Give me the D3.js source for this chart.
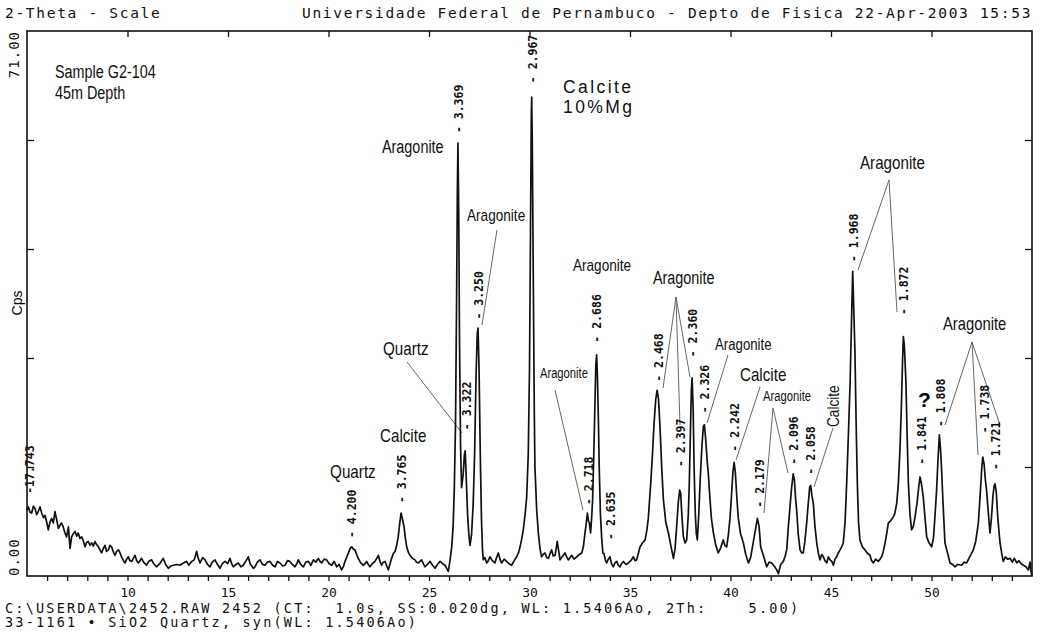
<!DOCTYPE html>
<html>
<head>
<meta charset="utf-8">
<script src="https://cdn.jsdelivr.net/npm/d3@7"></script>
<style>
  html, body { margin: 0; padding: 0; background: #fff; }
  svg { display: block; }
  .mono { font-family: "DejaVu Sans Mono", monospace; fill: #111; white-space: pre; }
  .phase { font-family: "Liberation Sans Narrow", "Liberation Sans", Arial, sans-serif; fill: #111; }
  .axis path { display: none; }
  .axis line { stroke: #111; stroke-width: 1.3; }
  .axis text { font-family: "DejaVu Sans Mono", monospace; font-size: 13px; fill: #111; }
</style>
</head>
<body>
<svg id="chart" width="1040" height="635"></svg>
<script>

// DATA ////////////////////////////////////////////////////////////////////

// measured scan: [2-theta (deg), counts per second]
var scan = [
  [5.00,8.6],[5.07,9.0],[5.15,8.3],[5.23,8.2],[5.32,9.1],[5.40,8.8],[5.48,8.0],[5.56,8.4],[5.65,9.0],[5.73,8.2],
  [5.82,7.6],[5.90,7.9],[5.98,7.0],[6.06,6.0],[6.14,7.0],[6.23,7.5],[6.31,6.9],[6.39,8.4],[6.48,7.3],[6.56,6.2],
  [6.64,6.6],[6.72,6.9],[6.80,6.4],[6.89,5.6],[6.97,5.1],[7.06,6.4],[7.14,3.6],[7.22,5.1],[7.30,5.5],[7.39,5.8],
  [7.47,5.2],[7.55,5.6],[7.63,4.9],[7.72,5.1],[7.80,4.6],[7.89,3.8],[7.97,4.4],[8.05,4.5],[8.13,4.0],[8.22,4.3],
  [8.30,3.9],[8.38,4.5],[8.46,4.1],[8.55,3.8],[8.63,3.4],[8.71,3.0],[8.80,3.6],[8.88,4.0],[8.96,3.2],[9.05,3.4],
  [9.13,4.0],[9.21,3.8],[9.30,3.1],[9.38,2.7],[9.46,3.2],[9.55,3.4],[9.63,3.0],[9.72,2.4],[9.80,2.0],[9.88,1.7],
  [9.96,2.2],[10.04,2.5],[10.12,2.0],[10.21,1.9],[10.29,2.3],[10.37,2.7],[10.46,2.0],[10.54,1.7],[10.62,2.0],[10.70,2.3],
  [10.80,1.8],[10.95,1.4],[11.05,1.9],[11.20,2.1],[11.30,1.6],[11.45,1.2],[11.60,1.6],[11.78,2.3],[11.90,1.5],[12.03,1.0],
  [12.15,1.3],[12.28,1.4],[12.45,1.5],[12.61,1.4],[12.78,1.7],[12.94,1.9],[13.05,1.4],[13.19,1.9],[13.32,2.1],[13.44,3.2],
  [13.52,2.3],[13.61,1.7],[13.74,2.4],[13.86,2.1],[13.98,1.5],[14.10,1.2],[14.22,1.8],[14.35,2.1],[14.48,1.5],[14.60,1.0],
  [14.72,1.6],[14.85,1.9],[14.98,1.6],[15.10,2.3],[15.18,1.6],[15.27,1.2],[15.40,1.5],[15.51,1.7],[15.64,1.2],[15.76,1.4],
  [15.90,2.0],[16.01,2.5],[16.10,1.6],[16.26,1.0],[16.34,1.2],[16.46,1.8],[16.59,2.1],[16.72,1.5],[16.84,1.4],[16.96,1.8],
  [17.09,1.9],[17.22,1.4],[17.34,1.2],[17.46,1.9],[17.59,1.7],[17.72,1.3],[17.84,1.4],[17.96,2.0],[18.08,1.9],[18.20,1.5],
  [18.33,1.2],[18.42,1.6],[18.50,2.1],[18.62,1.5],[18.75,1.2],[18.87,1.8],[19.00,1.9],[19.12,1.4],[19.25,2.1],[19.37,1.8],
  [19.49,2.3],[19.58,1.9],[19.66,1.7],[19.78,2.2],[19.91,2.1],[20.03,1.6],[20.16,1.4],[20.28,1.9],[20.41,1.2],[20.53,1.5],
  [20.65,0.8],[20.75,1.3],[20.82,1.9],[20.90,2.4],[20.99,3.0],[21.08,3.6],[21.15,3.8],[21.24,3.5],[21.32,3.4],[21.40,2.8],
  [21.48,2.3],[21.60,1.7],[21.73,1.4],[21.82,1.6],[21.90,1.9],[21.98,1.5],[22.06,1.2],[22.18,1.6],[22.31,1.9],[22.40,2.3],
  [22.48,2.7],[22.56,1.9],[22.64,1.4],[22.72,1.8],[22.81,1.9],[22.90,1.3],[22.98,0.8],[23.06,1.6],[23.14,2.3],[23.22,2.9],
  [23.31,3.2],[23.39,4.0],[23.47,5.1],[23.54,6.8],[23.61,8.2],[23.68,7.4],[23.76,6.4],[23.82,5.0],[23.89,3.8],[23.97,3.1],
  [24.05,2.7],[24.18,2.3],[24.30,2.1],[24.38,1.8],[24.47,1.7],[24.55,1.9],[24.63,2.1],[24.72,1.6],[24.80,1.2],[24.92,1.5],
  [25.05,1.9],[25.18,1.4],[25.30,1.0],[25.42,1.5],[25.55,1.9],[25.68,1.6],[25.80,1.4],[25.88,1.0],[25.96,0.6],[26.04,1.9],
  [26.13,3.8],[26.20,6.5],[26.26,11.5],[26.32,20.0],[26.37,35.0],[26.41,50.0],[26.44,56.4],[26.48,47.0],[26.52,30.0],[26.57,17.0],
  [26.62,11.5],[26.70,13.2],[26.76,15.8],[26.80,16.3],[26.85,13.0],[26.92,8.0],[26.98,5.5],[27.04,4.0],[27.12,5.5],[27.20,9.5],
  [27.27,16.0],[27.34,26.0],[27.40,31.5],[27.44,32.3],[27.49,27.0],[27.55,16.0],[27.61,7.5],[27.66,3.5],[27.70,2.1],[27.78,2.4],
  [27.87,1.7],[27.95,2.0],[28.03,2.5],[28.15,2.0],[28.28,1.7],[28.36,2.4],[28.45,3.0],[28.53,2.2],[28.61,1.7],[28.74,2.2],
  [28.86,1.9],[28.98,1.6],[29.11,1.4],[29.24,2.0],[29.36,2.5],[29.45,3.0],[29.53,3.8],[29.61,4.8],[29.69,6.0],[29.78,8.0],
  [29.86,10.3],[29.94,16.0],[30.00,27.0],[30.05,45.0],[30.09,60.0],[30.11,62.4],[30.14,56.0],[30.19,38.0],[30.24,21.0],[30.27,14.2],
  [30.36,8.5],[30.44,5.6],[30.52,3.6],[30.60,2.5],[30.68,2.8],[30.77,3.0],[30.86,2.4],[30.94,2.3],[31.02,2.9],[31.10,3.4],
  [31.18,2.6],[31.27,2.7],[31.33,3.6],[31.38,4.5],[31.45,3.3],[31.52,2.1],[31.65,2.6],[31.77,3.0],[31.85,2.5],[31.93,2.1],
  [32.02,2.4],[32.10,2.7],[32.22,2.2],[32.35,2.5],[32.48,2.8],[32.60,3.0],[32.68,3.8],[32.76,5.6],[32.82,6.8],[32.88,8.2],
  [32.93,7.2],[32.98,6.9],[33.04,5.6],[33.09,7.5],[33.14,9.9],[33.20,16.0],[33.26,22.9],[33.30,27.5],[33.34,28.8],[33.38,26.0],
  [33.43,20.0],[33.47,14.0],[33.53,8.0],[33.59,5.0],[33.65,3.0],[33.71,2.9],[33.78,2.0],[33.84,1.7],[33.92,2.2],[34.00,2.5],
  [34.08,1.6],[34.17,1.2],[34.25,1.7],[34.34,1.9],[34.42,1.4],[34.50,1.2],[34.58,1.6],[34.67,1.9],[34.80,1.5],[34.92,1.7],
  [35.04,2.0],[35.17,2.5],[35.25,2.0],[35.33,2.1],[35.42,3.0],[35.50,3.8],[35.62,4.3],[35.75,4.7],[35.84,6.0],[35.91,7.5],
  [35.95,9.0],[36.03,12.0],[36.12,16.0],[36.20,20.0],[36.28,23.0],[36.35,24.2],[36.42,23.0],[36.50,19.0],[36.58,14.0],[36.66,10.0],
  [36.78,7.0],[36.91,5.6],[37.03,4.0],[37.16,2.3],[37.24,3.5],[37.32,6.4],[37.40,9.5],[37.47,11.2],[37.52,10.8],[37.58,8.0],
  [37.65,5.2],[37.74,4.3],[37.82,4.7],[37.90,8.0],[37.95,12.0],[38.00,18.0],[38.05,24.0],[38.09,25.8],[38.14,22.0],[38.19,14.0],
  [38.25,8.0],[38.30,5.5],[38.35,4.7],[38.42,8.0],[38.50,13.0],[38.58,17.0],[38.65,19.5],[38.70,19.7],[38.76,18.0],[38.84,15.0],
  [38.90,13.2],[38.98,10.0],[39.05,7.5],[39.15,5.6],[39.27,4.0],[39.39,3.0],[39.50,3.6],[39.64,4.7],[39.72,4.0],[39.81,3.8],
  [39.90,5.5],[39.98,7.7],[40.05,10.5],[40.12,13.5],[40.18,14.8],[40.24,13.5],[40.32,10.0],[40.39,7.5],[40.50,5.5],[40.64,4.3],
  [40.76,2.8],[40.89,1.7],[41.00,2.4],[41.14,4.5],[41.24,6.0],[41.34,7.5],[41.42,6.5],[41.50,3.8],[41.62,2.8],[41.80,1.2],
  [41.92,1.8],[42.05,1.7],[42.20,1.2],[42.30,0.8],[42.38,0.3],[42.50,1.5],[42.63,1.9],[42.72,2.6],[42.80,3.5],[42.88,6.5],
  [42.96,9.0],[43.04,11.5],[43.12,13.3],[43.18,12.5],[43.24,10.0],[43.29,8.6],[43.37,5.5],[43.46,3.4],[43.54,3.0],[43.62,3.0],
  [43.70,4.5],[43.79,6.9],[43.87,9.5],[43.94,11.6],[43.99,11.8],[44.05,10.5],[44.12,9.5],[44.20,6.5],[44.29,4.3],[44.37,3.0],
  [44.45,2.1],[44.54,2.8],[44.62,2.5],[44.70,2.0],[44.79,1.7],[44.87,2.5],[44.95,2.1],[45.04,1.9],[45.12,1.4],[45.20,2.2],
  [45.28,2.5],[45.36,3.0],[45.45,3.4],[45.53,3.8],[45.61,4.3],[45.70,7.0],[45.78,12.1],[45.86,18.0],[45.95,25.1],[46.02,33.0],
  [46.08,39.7],[46.13,35.0],[46.19,29.4],[46.25,20.0],[46.31,12.1],[46.37,7.0],[46.44,4.7],[46.56,3.8],[46.69,3.4],[46.80,3.0],
  [46.94,2.7],[47.02,2.0],[47.11,1.7],[47.22,2.2],[47.35,1.9],[47.44,2.2],[47.52,2.5],[47.60,3.2],[47.69,4.3],[47.77,5.5],
  [47.85,6.9],[47.97,7.2],[48.10,7.7],[48.18,8.2],[48.27,9.5],[48.35,12.0],[48.43,16.4],[48.50,22.0],[48.56,28.0],[48.60,31.2],
  [48.65,30.0],[48.73,25.1],[48.79,18.0],[48.85,12.1],[48.93,8.0],[49.01,6.0],[49.10,6.5],[49.18,7.7],[49.28,9.5],[49.36,11.5],
  [49.43,12.9],[49.50,12.0],[49.59,10.3],[49.68,7.5],[49.76,5.1],[49.88,4.3],[50.01,3.8],[50.10,5.0],[50.17,7.7],[50.25,11.0],
  [50.32,15.0],[50.39,18.4],[50.45,16.5],[50.50,14.0],[50.56,10.3],[50.62,7.0],[50.67,4.3],[50.80,3.0],[50.92,1.7],[51.05,1.5],
  [51.17,1.2],[51.30,1.5],[51.50,1.4],[51.62,1.8],[51.75,1.7],[51.90,2.5],[52.08,3.4],[52.20,4.5],[52.33,6.9],[52.42,10.5],
  [52.50,14.0],[52.55,15.5],[52.62,14.5],[52.68,12.5],[52.74,11.2],[52.82,8.5],[52.91,5.6],[52.98,7.5],[53.06,10.5],[53.12,11.8],
  [53.16,12.0],[53.22,11.0],[53.30,7.5],[53.41,4.3],[53.49,3.0],[53.57,1.9],[53.68,2.5],[53.78,2.2],[53.91,2.3],[54.02,1.8],
  [54.12,2.3],[54.24,1.7],[54.35,2.0],[54.46,1.6],[54.57,1.4],[54.70,1.2],[54.82,0.8],[54.90,1.8],[54.95,0.6],[55.00,0.0]
];

// peak search results: d-spacing, 2-theta, marker height (cps)
var peakD        = ["17.743", "4.200", "3.765", "3.369", "3.322", "3.250", "2.967", "2.718", "2.686", "2.635", "2.468", "2.397",
                    "2.360", "2.326", "2.242", "2.179", "2.096", "2.058", "1.968", "1.872", "1.841", "1.808", "1.738", "1.721"];
var peakTwoTheta = [5.10, 21.14, 23.61, 26.43, 26.82, 27.42, 30.10, 32.93, 33.33, 34.00, 36.37, 37.49,
                    38.10, 38.68, 40.19, 41.40, 43.13, 43.96, 46.09, 48.60, 49.47, 50.44, 52.62, 53.18];
var peakMarkCps  = [10.7, 4.95, 9.5, 57.7, 19.0, 33.4, 64.2, 9.25, 30.4, 4.7, 25.3, 14.2,
                    28.5, 21.2, 16.2, 8.9, 14.5, 13.2, 40.9, 34.0, 14.5, 19.4, 18.6, 13.8];

// phase names written on the pattern: text, 2-theta, cps, font px
var phaseNotes = [
  ["Sample G2-104", 6.39, 64.9, 18], ["45m Depth", 6.39, 62.1, 18],
  ["Aragonite", 22.66, 55.1, 18], ["Aragonite", 26.89, 46.3, 17], ["Quartz", 22.71, 28.8, 19],
  ["Aragonite", 30.52, 25.8, 14], ["Aragonite", 32.16, 39.7, 17], ["Aragonite", 36.14, 38.0, 18],
  ["Aragonite", 39.23, 29.4, 16.5], ["Calcite", 40.47, 25.4, 19], ["Aragonite", 41.62, 22.8, 14],
  ["Aragonite", 46.44, 53.0, 19], ["Aragonite", 50.57, 32.05, 18.5],
  ["Quartz", 20.08, 12.8, 19], ["Calcite", 22.56, 17.5, 19]
];
var calciteMg = ["Calcite", "10%Mg"];
var calciteMgPos = [31.67, 62.9, 60.3];

// leader lines: [2-theta, cps] -> [2-theta, cps]
var leaders = [
  [23.905, 27.88, 26.642, 18.63], [28.383, 45.08, 27.637, 32.70], [31.269, 24.23, 32.662, 8.60],
  [37.289, 36.35, 36.642, 24.49], [37.289, 36.35, 37.488, 19.67], [37.289, 36.35, 37.985, 25.93],
  [39.876, 28.79, 38.831, 19.93], [41.468, 24.62, 40.274, 15.11],
  [42.114, 21.89, 41.667, 8.21], [42.114, 21.89, 42.861, 13.42], [45.100, 19.28, 44.154, 11.59],
  [47.886, 51.59, 46.343, 39.87], [47.886, 51.59, 48.284, 34.39],
  [52.015, 30.49, 50.672, 19.67], [52.015, 30.49, 52.313, 15.76], [52.015, 30.49, 53.408, 19.67]
];

var xLabelTicks = [10, 15, 20, 25, 30, 35, 40, 45, 50];
var yRangeLabels = ["0.00", "71.00"];
var headerLeft = "2-Theta - Scale";
var headerRight = "Universidade Federal de Pernambuco - Depto de Fisica 22-Apr-2003 15:53";
var footerLines = [
  "C:\\USERDATA\\2452.RAW 2452 (CT:  1.0s, SS:0.020dg, WL: 1.5406Ao, 2Th:    5.00)",
  "33-1161 \u2022 SiO2 Quartz, syn(WL: 1.5406Ao)"
];

// CHART ///////////////////////////////////////////////////////////////////

(function(){

  var svg = d3.select("#chart");

  var x = d3.scaleLinear().domain([5, 55]).range([27, 1032]);
  var y = d3.scaleLinear().domain([0, 71]).range([576, 31]);

  // squeeze a text horizontally, the way a condensed face would look
  function narrow(sel, k){
    sel.each(function(){
      var w = this.getComputedTextLength();
      d3.select(this).attr("textLength", w * k).attr("lengthAdjust", "spacingAndGlyphs");
    });
  }

  // header and footer text
  svg.append("text").attr("class", "mono")
    .attr("x", 5).attr("y", 18)
    .style("font-size", "14.5px").style("letter-spacing", "1.7px")
    .text(headerLeft);

  svg.append("text").attr("class", "mono")
    .attr("x", 302).attr("y", 18)
    .style("font-size", "14.5px").style("letter-spacing", "1.7px")
    .text(headerRight);

  svg.selectAll("text.footer").data(footerLines).enter()
    .append("text").attr("class", "mono footer")
    .attr("x", 5).attr("y", function(d, i){ return 613 + i * 14; })
    .style("font-size", "13.5px").style("letter-spacing", "2.2px")
    .text(function(d){ return d; });

  // axes
  svg.append("g").attr("class", "axis")
    .attr("transform", "translate(0," + y(0) + ")")
    .call(d3.axisBottom(x)
      .tickValues(d3.range(6, 55))
      .tickSize(5).tickPadding(7)
      .tickFormat(function(d){ return xLabelTicks.indexOf(d) > -1 ? d : ""; }))
    .selectAll("text").filter(function(d){ return xLabelTicks.indexOf(d) < 0; }).remove();

  svg.append("g").attr("class", "axis")
    .attr("transform", "translate(0," + y(71) + ")")
    .call(d3.axisTop(x).tickValues(xLabelTicks).tickSize(-6).tickFormat(""))
    .selectAll("text").remove();

  var yTicks = d3.range(1, 5).map(function(k){ return 71 * k / 5; });

  svg.append("g").attr("class", "axis")
    .attr("transform", "translate(" + x(5) + ",0)")
    .call(d3.axisLeft(y).tickValues(yTicks).tickSize(-7).tickFormat(""))
    .selectAll("text").remove();

  svg.append("g").attr("class", "axis")
    .attr("transform", "translate(" + x(55) + ",0)")
    .call(d3.axisRight(y).tickValues(yTicks).tickSize(-7).tickFormat(""))
    .selectAll("text").remove();

  svg.append("rect")
    .attr("x", x(5)).attr("y", y(71))
    .attr("width", x(55) - x(5)).attr("height", y(0) - y(71))
    .attr("fill", "none").attr("stroke", "#111").attr("stroke-width", 1.6);

  // y range labels
  svg.append("text").attr("class", "mono")
    .attr("transform", "translate(14," + y(0) + ") rotate(-90)")
    .attr("dominant-baseline", "central")
    .style("font-size", "14px").style("letter-spacing", "1px")
    .text(yRangeLabels[0]);

  svg.append("text").attr("class", "mono")
    .attr("transform", "translate(14," + y(71) + ") rotate(-90)")
    .attr("dominant-baseline", "central").attr("text-anchor", "end")
    .style("font-size", "14px").style("letter-spacing", "1px")
    .text(yRangeLabels[1]);

  svg.append("text")
    .attr("transform", "translate(17,303) rotate(-90)")
    .attr("dominant-baseline", "central").attr("text-anchor", "middle")
    .style("font-family", "Liberation Sans, Arial, sans-serif").style("font-size", "14px")
    .text("Cps");

  // leaders (under the trace)
  svg.selectAll("line.leader").data(leaders).enter()
    .append("line").attr("class", "leader")
    .attr("x1", function(d){ return x(d[0]); }).attr("y1", function(d){ return y(d[1]); })
    .attr("x2", function(d){ return x(d[2]); }).attr("y2", function(d){ return y(d[3]); })
    .attr("stroke", "#666").attr("stroke-width", 1);

  // scan trace
  var line = d3.line()
    .x(function(d){ return x(d[0]); })
    .y(function(d){ return y(d[1]); });

  svg.append("path").datum(scan)
    .attr("d", line)
    .attr("fill", "none").attr("stroke", "#111")
    .attr("stroke-width", 1.7).attr("stroke-linejoin", "round");

  // peak d-spacing markers
  svg.selectAll("text.peak").data(peakD).enter()
    .append("text").attr("class", "mono peak")
    .attr("transform", function(d, i){
      return "translate(" + (x(peakTwoTheta[i]) + 1) + "," + y(peakMarkCps[i]) + ") rotate(-90)";
    })
    .attr("dominant-baseline", "central")
    .style("font-size", "11.5px").style("font-weight", "bold")
    .text(function(d){ return d.length > 5 ? "-" + d : "- " + d; });

  // phase notes
  svg.selectAll("text.note").data(phaseNotes).enter()
    .append("text").attr("class", "phase note")
    .attr("x", function(d){ return x(d[1]); })
    .attr("y", function(d){ return y(d[2]); })
    .style("font-size", function(d){ return d[3] + "px"; })
    .text(function(d){ return d[0]; })
    .call(narrow, 0.8);

  svg.append("text").attr("class", "phase")
    .attr("transform", "translate(" + x(45.10) + "," + y(19.41) + ") rotate(-90)")
    .attr("dominant-baseline", "central")
    .style("font-size", "17px")
    .text("Calcite")
    .call(narrow, 0.8);

  svg.append("text")
    .attr("x", x(49.33)).attr("y", y(22.0))
    .style("font-family", "Liberation Sans, Arial, sans-serif")
    .style("font-size", "21px").style("font-weight", "bold")
    .text("?");

  svg.selectAll("text.mg").data(calciteMg).enter()
    .append("text").attr("class", "mg")
    .attr("x", x(calciteMgPos[0]))
    .attr("y", function(d, i){ return y(calciteMgPos[i + 1]); })
    .style("font-family", "Liberation Sans, Arial, sans-serif").style("font-size", "17.5px")
    .style("letter-spacing", "2.4px").style("fill", "#111")
    .text(function(d){ return d; });

})();

</script>
</body>
</html>
